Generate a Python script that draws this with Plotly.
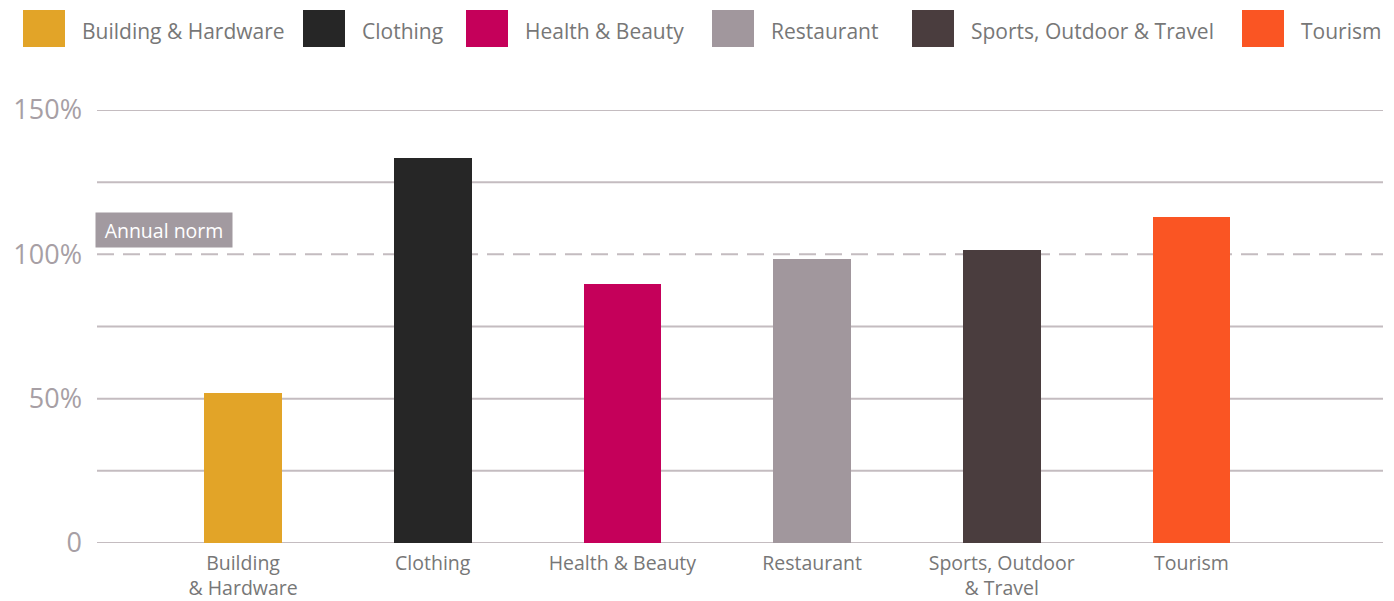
import plotly.graph_objects as go

# Category data
categories = ["Building & Hardware", "Clothing", "Health & Beauty",
              "Restaurant", "Sports, Outdoor & Travel", "Tourism"]
axis_labels = ["Building<br>& Hardware", "Clothing", "Health & Beauty",
               "Restaurant", "Sports, Outdoor<br>& Travel", "Tourism"]
values = [52, 133.3, 89.6, 98.3, 101.5, 112.8]
colors = ["#e2a428", "#262626", "#c5005a", "#a1979d", "#4a3d3e", "#fa5523"]

grid_values = [0, 25, 50, 75, 125, 150]
norm_value = 100
y_tickvals = [0, 50, 100, 150]
y_ticktext = ["0", "50%", "100%", "150%"]

# Page geometry (pixels)
W, H = 1394, 601
M_L, M_R, M_T, M_B = 97, 11, 110, 58
PLOT_W = W - M_L - M_R
PLOT_H = H - M_T - M_B

def px_x(p):
    return (p - M_L) / PLOT_W

def px_y(p):
    return (H - M_B - p) / PLOT_H

FONT = "Open Sans"
TEXT_GREY = "#777777"
AXIS_GREY = "#a79fa5"
GRID = "#c4bcc0"

fig = go.Figure()
fig.add_trace(go.Bar(
    x=list(range(len(categories))),
    y=values,
    marker=dict(color=colors, line=dict(width=0)),
    width=0.41,
    showlegend=False,
    hoverinfo="skip",
))

shapes = []
for g in grid_values:
    shapes.append(dict(type="line", xref="paper", yref="y", x0=0, x1=1,
                       y0=g, y1=g, line=dict(color=GRID, width=2), layer="below"))
shapes.append(dict(type="line", xref="paper", yref="y", x0=0, x1=1,
                   y0=norm_value, y1=norm_value,
                   line=dict(color=GRID, width=2, dash="17px,9px"), layer="below"))

annotations = [dict(
    x=0, xref="paper", xanchor="left", xshift=-2,
    y=norm_value, yref="y", yanchor="bottom", yshift=6,
    text="Annual norm", showarrow=False,
    font=dict(family=FONT, size=19.5, color="white"),
    bgcolor="#a29aa0", borderpad=0, width=136, height=34, align="center",
)]

# Legend row: square swatches with labels
legend_left = [23, 303, 466, 712, 912, 1242]
SW, SH, S_TOP = 42, 37, 10
for cat, col, lx in zip(categories, colors, legend_left):
    shapes.append(dict(type="rect", xref="paper", yref="paper",
                       x0=px_x(lx), x1=px_x(lx + SW),
                       y0=px_y(S_TOP + SH), y1=px_y(S_TOP),
                       fillcolor=col, line=dict(width=0)))
    annotations.append(dict(
        x=px_x(lx + SW + 15), xref="paper", xanchor="left",
        y=px_y(S_TOP + SH / 2 + 3), yref="paper", yanchor="middle",
        text=cat, showarrow=False,
        font=dict(family=FONT, size=21, color=TEXT_GREY),
    ))

fig.update_layout(
    width=W, height=H,
    margin=dict(l=M_L, r=M_R, t=M_T, b=M_B, autoexpand=False),
    paper_bgcolor="white", plot_bgcolor="white",
    shapes=shapes, annotations=annotations,
    xaxis=dict(
        range=[-0.77, 6.01],
        tickvals=list(range(len(categories))), ticktext=axis_labels,
        tickfont=dict(family=FONT, size=19.5, color=TEXT_GREY),
        showgrid=False, zeroline=False, showline=False, ticks="",
        ticklabelstandoff=6, automargin=False,
    ),
    yaxis=dict(
        range=[0, 150],
        tickvals=y_tickvals, ticktext=y_ticktext,
        tickfont=dict(family=FONT, size=27, color=AXIS_GREY),
        showgrid=False, zeroline=False, showline=False, ticks="",
        ticklabelstandoff=14, automargin=False,
    ),
    bargap=0,
)

fig.write_html("out.html")
